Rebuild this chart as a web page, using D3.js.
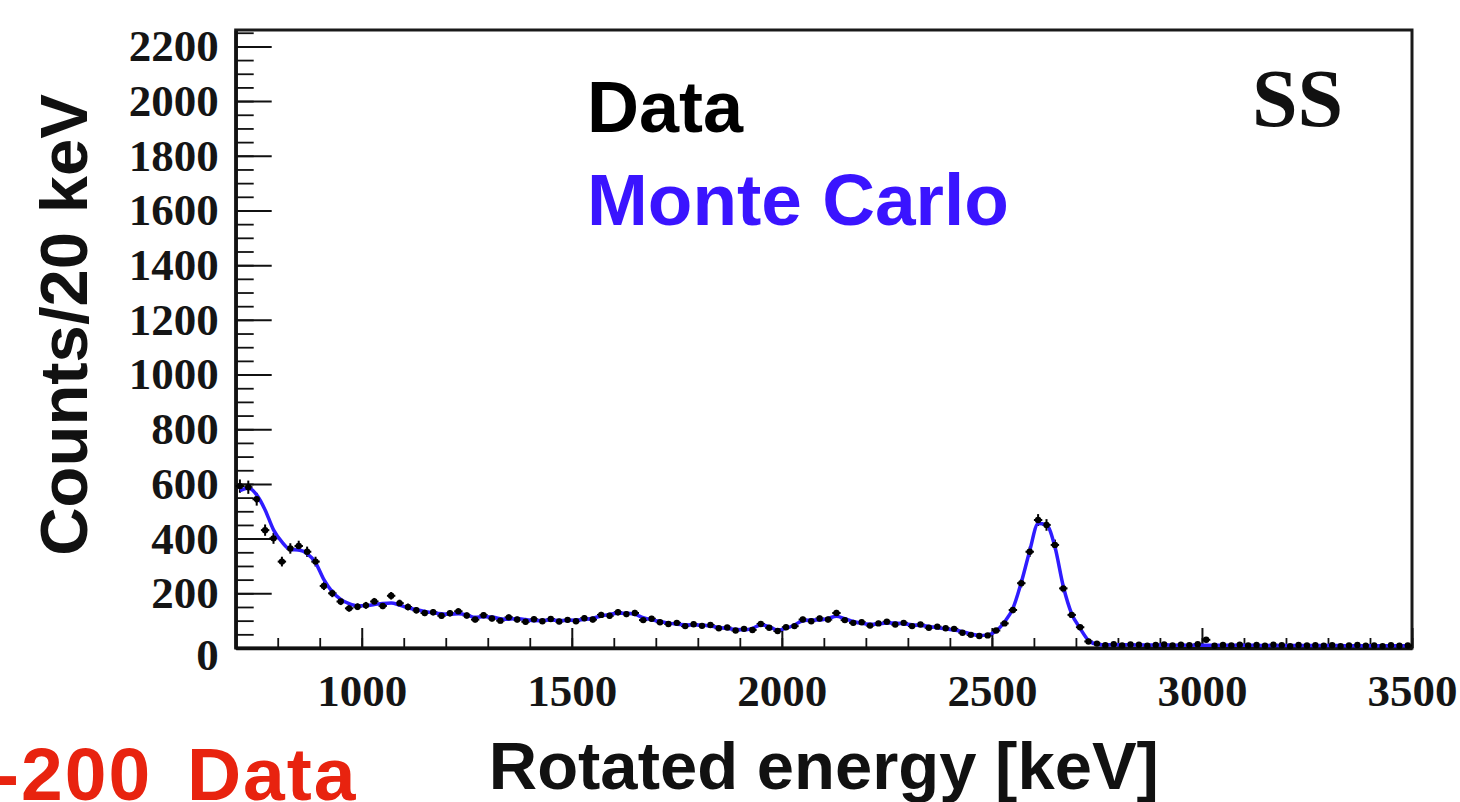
<!DOCTYPE html>
<html><head><meta charset="utf-8">
<script src="https://cdn.jsdelivr.net/npm/d3@7"></script>
<style>html,body{margin:0;padding:0;background:#fff;overflow:hidden}</style>
</head><body>
<svg id="c" width="1460" height="802"></svg>
<script>
// ---- data (20 keV bins, first bin 700-720 keV) ----
const binLow = 700, binWidth = 20;
const mcCounts = [
  575,585,560,505,432,388,360,358,345,312,
  250,205,178,162,154,155,159,163,165,157,
  147,140,134,129,125,123,125,121,112,114,
  113,107,105,108,104,100,101,102,101,101,
  102,104,109,117,123,127,127,123,111,103,
  97,91,87,85,84,84,80,75,71,68,
  66,72,84,78,66,72,84,100,102,102,
  108,116,107,97,90,87,88,91,91,88,
  85,82,79,74,70,66,60,51,46,48,
  62,95,145,240,355,455,450,370,225,125,
  72,28,14,12,12,12,11,11,11,11,
  11,11,10,10,10,10,10,10,10,10,
  10,10,9,9,9,9,9,9,9,9,
  9,9,8,8,8,8,8,8,8,8
];
const dataCounts = [
  592,588,544,431,401,316,364,373,352,316,
  227,200,170,145,151,156,170,154,191,164,
  150,138,128,131,118,127,134,119,104,120,
  108,100,112,104,96,105,98,106,97,103,
  98,109,104,121,118,131,124,128,102,107,
  94,88,92,80,87,81,84,72,75,64,
  70,66,88,74,62,76,80,104,98,108,
  104,128,102,92,94,82,90,96,86,92,
  80,86,74,78,72,70,56,48,44,46,
  64,90,139,237,352,468,450,377,218,121,
  76,24,16,10,14,9,13,12,8,11,
  13,9,12,10,14,30,8,11,9,12,
  9,11,8,12,10,7,11,9,10,8,
  10,7,9,11,8,9,7,10,8,9
];
const xTickLabels = [1000,1500,2000,2500,3000,3500];
const yTickLabels = [0,200,400,600,800,1000,1200,1400,1600,1800,2000,2200];
const xMinorStep = 100, yMinorStep = 50;
const xDomain = [700, 3500], yDomain = [0, 2260];
const xTitle = "Rotated energy [keV]";
const yTitle = "Counts/20 keV";
const legendData = "Data", legendMC = "Monte Carlo", tagSS = "SS", overlay = "-200 Data";

// ---- layout ----
const svg = d3.select("#c");
const L = 235.7, R = 1412, T = 30, B = 648;
const x = d3.scaleLinear().domain(xDomain).range([L, R]);
const y = d3.scaleLinear().domain(yDomain).range([B, T]);
const serif = "'Liberation Serif','Times New Roman',serif";
const sans = "'Liberation Sans',Arial,Helvetica,sans-serif";

const bins = mcCounts.map((v, i) => ({
  e: binLow + binWidth * (i + 0.5), mc: v, d: dataCounts[i]
}));

// frame
svg.append("rect").attr("x", L).attr("y", T).attr("width", R - L).attr("height", B - T)
  .attr("fill", "none").attr("stroke", "#1a1a1a").attr("stroke-width", 3);

// minor ticks
const xMinor = d3.range(xDomain[0], xDomain[1] + 1, xMinorStep);
const yMinor = d3.range(yDomain[0], yDomain[1], yMinorStep);
const gxm = svg.append("g").attr("transform", `translate(0,${B})`)
  .call(d3.axisBottom(x).tickValues(xMinor).tickSize(-10).tickSizeOuter(0).tickFormat(""));
const gym = svg.append("g").attr("transform", `translate(${L},0)`)
  .call(d3.axisLeft(y).tickValues(yMinor).tickSize(-18).tickSizeOuter(0).tickFormat(""));
[gxm, gym].forEach(g => { g.select(".domain").remove(); g.selectAll(".tick line").attr("stroke", "#111").attr("stroke-width", 1.8); });

// major ticks + labels
const gx = svg.append("g").attr("transform", `translate(0,${B})`)
  .call(d3.axisBottom(x).tickValues(xTickLabels).tickSize(-20).tickSizeOuter(0).tickPadding(26.5).tickFormat(d3.format("d")));
const gy = svg.append("g").attr("transform", `translate(${L},0)`)
  .call(d3.axisLeft(y).tickValues(yTickLabels).tickSize(-36).tickSizeOuter(0).tickPadding(17).tickFormat(d3.format("d")));
[gx, gy].forEach(g => {
  g.select(".domain").attr("stroke", "#111").attr("stroke-width", 3.5);
  g.selectAll(".tick line").attr("stroke", "#111").attr("stroke-width", 2);
  g.selectAll(".tick text").attr("font-family", serif).attr("font-weight", "bold")
    .attr("font-size", 45).attr("fill", "#151515");
});
gy.selectAll(".tick text").filter(d => d === 0).attr("dy", "0.47em");

// data error bars
const gd = svg.append("g");
gd.selectAll("line.ey").data(bins).join("line").attr("class", "ey")
  .attr("x1", d => x(d.e)).attr("x2", d => x(d.e))
  .attr("y1", d => y(d.d + Math.sqrt(d.d))).attr("y2", d => y(Math.max(0, d.d - Math.sqrt(d.d))))
  .attr("stroke", "#000").attr("stroke-width", 2);
gd.selectAll("line.ex").data(bins).join("line").attr("class", "ex")
  .attr("x1", d => x(d.e - binWidth / 2)).attr("x2", d => x(d.e + binWidth / 2))
  .attr("y1", d => y(d.d)).attr("y2", d => y(d.d))
  .attr("stroke", "#000").attr("stroke-width", 2);

// MC line
svg.append("path").datum(bins)
  .attr("d", d3.line().x(d => x(d.e)).y(d => y(d.mc)).curve(d3.curveMonotoneX))
  .attr("fill", "none").attr("stroke", "#2f1cff").attr("stroke-width", 3.5).attr("stroke-linejoin", "round");

// data markers
svg.append("g").selectAll("circle").data(bins).join("circle")
  .attr("cx", d => x(d.e)).attr("cy", d => y(d.d)).attr("r", 3.2).attr("fill", "#000");

// texts
svg.append("text").attr("x", 587).attr("y", 132).attr("font-family", sans).attr("font-weight", "bold")
  .attr("font-size", 72).attr("fill", "#000").text(legendData);
svg.append("text").attr("x", 587).attr("y", 225).attr("font-family", sans).attr("font-weight", "bold")
  .attr("font-size", 73).attr("fill", "#3a14ff").text(legendMC);
svg.append("text").attr("x", 1252).attr("y", 126).attr("font-family", serif).attr("font-weight", "bold")
  .attr("font-style", "normal").attr("font-size", 82).attr("fill", "#111").text(tagSS);

svg.append("text").attr("x", (L + R) / 2).attr("y", 789).attr("text-anchor", "middle")
  .attr("font-family", sans).attr("font-weight", "bold").attr("font-size", 67).attr("fill", "#111").text(xTitle);
svg.append("text").attr("transform", "translate(87,325) rotate(-90)").attr("text-anchor", "middle")
  .attr("font-family", sans).attr("font-weight", "bold").attr("font-size", 67).attr("fill", "#111").text(yTitle);

svg.append("text").attr("x", -6).attr("y", 800).attr("font-family", sans).attr("font-weight", "bold")
  .attr("font-size", 75).attr("letter-spacing", 2).attr("word-spacing", 12).attr("fill", "#e8230f").text(overlay);
</script>
</body></html>
